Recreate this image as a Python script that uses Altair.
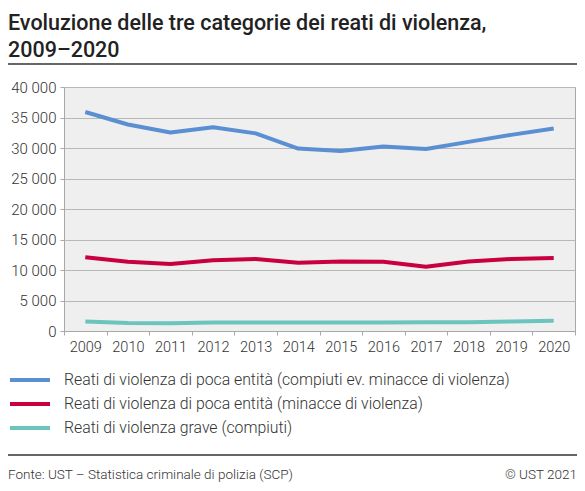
import altair as alt
import pandas as pd

years = [str(y) for y in range(2009, 2021)]
categorie = [
    "Reati di violenza di poca entità (compiuti ev. minacce di violenza)",
    "Reati di violenza di poca entità (minacce di violenza)",
    "Reati di violenza grave (compiuti)",
]
colori = ["#5b8fd3", "#c8003f", "#6cc4bf"]

# valori
poca_entita_compiuti = [35900, 33850, 32550, 33400, 32400, 29900, 29500, 30250, 29850, 31000, 32150, 33200]
poca_entita_minacce = [12100, 11350, 11000, 11600, 11800, 11200, 11400, 11350, 10550, 11400, 11800, 11950]
grave_compiuti = [1550, 1300, 1280, 1380, 1400, 1400, 1380, 1400, 1420, 1450, 1550, 1680]

y_ticks = list(range(0, 40001, 5000))
fonte = "Fonte: UST – Statistica criminale di polizia (SCP)"
copyright_txt = "© UST 2021"

rows = []
for nome, valori in zip(categorie, [poca_entita_compiuti, poca_entita_minacce, grave_compiuti]):
    for anno, v in zip(years, valori):
        rows.append({"anno": anno, "categoria": nome, "reati": v})
df = pd.DataFrame(rows)

W, H = 511, 244
LEFT = 56
GRAY = "#a8a8a8"
TEXT = "#333333"

lines = alt.Chart(df).mark_line(strokeWidth=4, strokeJoin="round").encode(
    x=alt.X(
        "anno:O",
        bandPosition=0.5,
        scale=alt.Scale(type="band", paddingInner=0, paddingOuter=0),
        axis=alt.Axis(
            title=None, tickBand="extent", labelAngle=0, labelFontSize=14.5,
            labelFontWeight=300, labelColor=TEXT, labelPadding=5, tickSize=4,
            tickColor=GRAY, domainColor=GRAY, grid=False,
        ),
    ),
    y=alt.Y(
        "reati:Q",
        scale=alt.Scale(domain=[0, 40000]),
        axis=alt.Axis(
            title=None, values=y_ticks, labelFontSize=15, labelFontWeight=300,
            labelColor=TEXT,
            labelExpr="replace(format(datum.value, ','), ',', ' ')",
            labelPadding=4, tickSize=4, tickColor=GRAY, domainColor=GRAY,
            gridColor="#b8b8b8", gridWidth=1.2,
        ),
    ),
    color=alt.Color(
        "categoria:N",
        scale=alt.Scale(domain=categorie, range=colori),
        legend=alt.Legend(
            title=None, orient="none", legendX=-LEFT, legendY=285,
            symbolType="stroke", symbolSize=1600, symbolStrokeWidth=4,
            clipHeight=16, labelFontSize=15.8, labelFontWeight=300,
            labelColor=TEXT, labelOffset=12, labelLimit=600, rowPadding=8,
        ),
    ),
)

one = pd.DataFrame({"k": [0]})

title_rule = alt.Chart(one).mark_rule(color="#333333", strokeWidth=1.5).encode(
    x=alt.value(-LEFT), x2=alt.value(W + 2), y=alt.value(-23)
)
footer_rule = alt.Chart(one).mark_rule(color="#333333", strokeWidth=1.5).encode(
    x=alt.value(-LEFT), x2=alt.value(W + 2), y=alt.value(368)
)
footer_left = alt.Chart(one).mark_text(
    align="left", baseline="middle", fontSize=13.5, fontWeight=300, color=TEXT
).encode(x=alt.value(-LEFT), y=alt.value(388), text=alt.value(fonte))
footer_right = alt.Chart(one).mark_text(
    align="right", baseline="middle", fontSize=13.5, fontWeight=300, color=TEXT
).encode(x=alt.value(W + 2), y=alt.value(388), text=alt.value(copyright_txt))

chart = (
    alt.layer(lines, title_rule, footer_rule, footer_left, footer_right)
    .properties(
        width=W,
        height=H,
        autosize=alt.AutoSizeParams(type="none"),
        padding={"left": LEFT, "top": 79, "right": 2, "bottom": 152},
        title=alt.TitleParams(
            ["Evoluzione delle tre categorie dei reati di violenza,", "2009–2020"],
            anchor="start", frame="group", dx=-LEFT, offset=2,
            fontSize=21.5, fontWeight=500, color="#222222", lineHeight=27,
        ),
    )
    .configure(font="Roboto")
    .configure_view(fill="#efefef", stroke=GRAY)
)

chart.save("out.html", embed_options={"renderer": "svg", "actions": False})
